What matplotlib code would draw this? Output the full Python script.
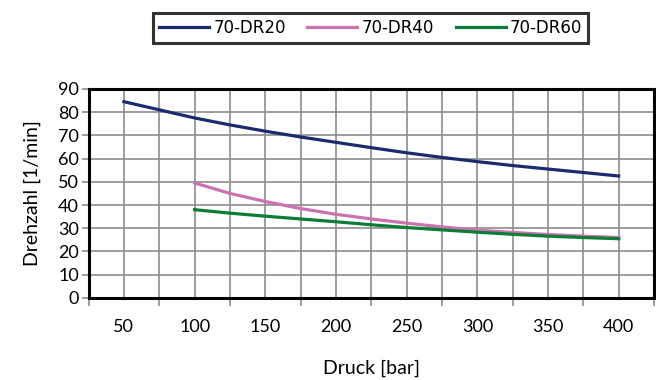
import numpy as np
import matplotlib
matplotlib.use("Agg")
import matplotlib.pyplot as plt
from matplotlib.ticker import MultipleLocator

# data
druck_20 = [50, 75, 100, 125, 150, 175, 200, 225, 250, 275, 300, 325, 350, 375, 400]
dr20 = [84.5, 81, 77.5, 74.5, 71.8, 69.3, 67, 64.7, 62.5, 60.5, 58.7, 57, 55.5, 54, 52.5]
druck_40 = [100, 125, 150, 175, 200, 225, 250, 275, 300, 325, 350, 375, 400]
dr40 = [49.5, 45, 41.5, 38.5, 36, 34, 32.2, 30.6, 29.2, 28.2, 27.3, 26.6, 26]
druck_60 = druck_40
dr60 = [38, 36.5, 35.2, 34, 32.8, 31.5, 30.3, 29.3, 28.3, 27.4, 26.6, 26, 25.5]

labels = ["70-DR20", "70-DR40", "70-DR60"]
colors = ["#1c2a6e", "#cc72b0", "#0a7d36"]
xticks = [50, 100, 150, 200, 250, 300, 350, 400]

plt.rcParams['font.family'] = ['Lato', 'DejaVu Sans']

fig = plt.figure(figsize=(6.56, 3.8), dpi=100)
ax = fig.add_axes([0.135, 0.216, 0.862, 0.55])

ax.plot(druck_20, dr20, color=colors[0], lw=2.3, label=labels[0], zorder=3)
ax.plot(druck_40, dr40, color=colors[1], lw=2.3, label=labels[1], zorder=3)
ax.plot(druck_60, dr60, color=colors[2], lw=2.3, label=labels[2], zorder=3)

ax.set_xlim(25, 425)
ax.set_ylim(0, 90)
ax.set_xticks(xticks)
ax.xaxis.set_minor_locator(MultipleLocator(25))
ax.yaxis.set_major_locator(MultipleLocator(10))
ax.grid(True, which='both', color='#8c8c8c', lw=1.2, zorder=0)
ax.tick_params(axis='x', which='major', length=0, pad=15, labelsize=13)
ax.tick_params(axis='x', which='minor', length=6, width=1.2, color='#8c8c8c')
ax.tick_params(axis='y', which='major', length=5, width=1.2, color='#8c8c8c', labelsize=13, pad=2)
for s in ax.spines.values():
    s.set_linewidth(2.2)
    s.set_color('black')

ax.set_xlabel("Druck [bar]", fontsize=14, labelpad=18)
ax.set_ylabel("Drehzahl [1/min]", fontsize=14, labelpad=12)

leg = fig.legend(loc='center', bbox_to_anchor=(0.565, 0.926), ncol=3, frameon=True,
                 fancybox=False, edgecolor='black', handlelength=3.0,
                 handletextpad=0.25, columnspacing=1.3, borderpad=0.35,
                 prop={'family': 'DejaVu Sans', 'size': 12})
leg.get_frame().set_linewidth(2.2)

fig.savefig("out.png", dpi=100)
